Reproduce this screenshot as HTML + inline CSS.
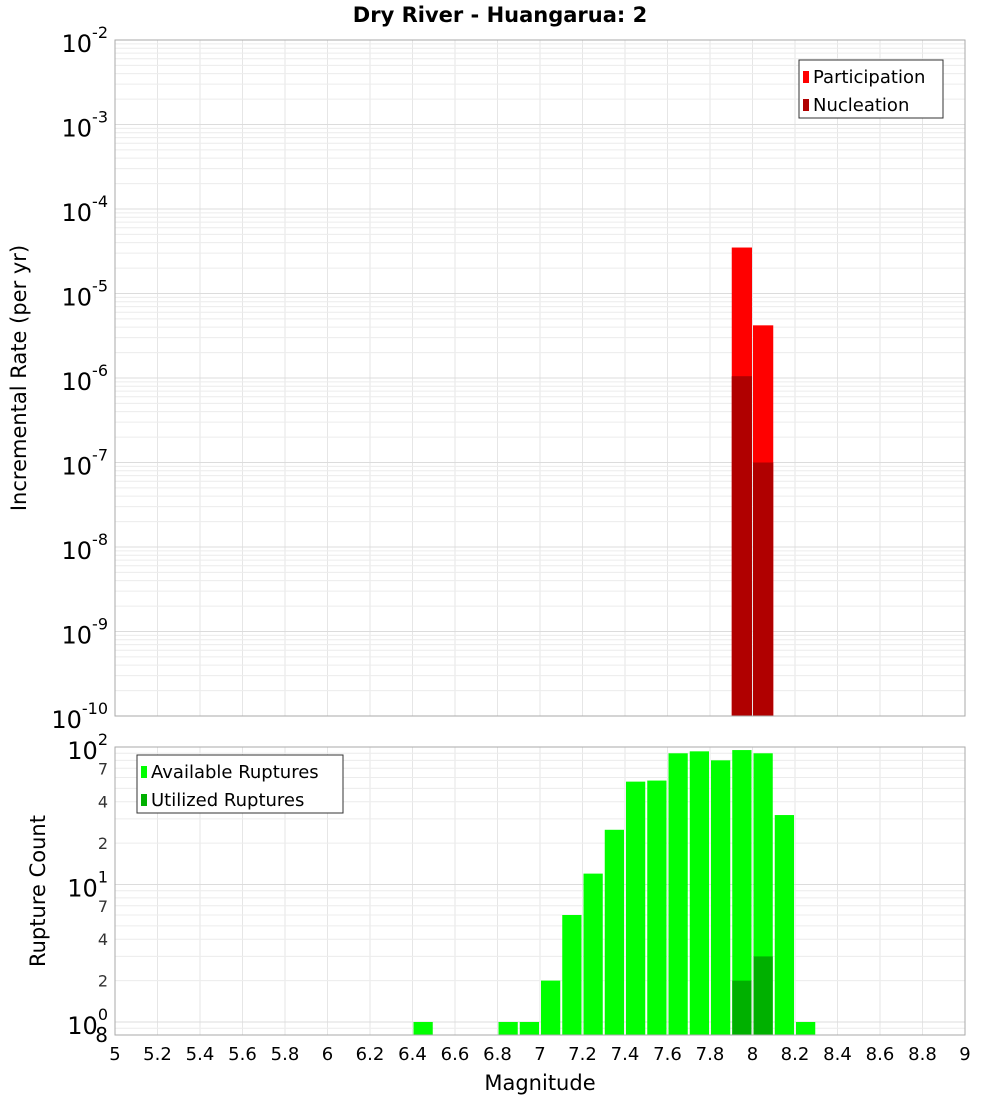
<!DOCTYPE html>
<html><head><meta charset="utf-8"><style>
body{margin:0;background:#fff;font-family:"DejaVu Sans","Liberation Sans",sans-serif}
</style></head><body>
<svg id="c" width="1000" height="1100" xmlns="http://www.w3.org/2000/svg" font-family="DejaVu Sans, Liberation Sans, sans-serif">
<text x="500" y="22" text-anchor="middle" font-size="21" font-weight="bold">Dry River - Huangarua: 2</text>
<g id="top"></g>
<g id="bot"></g>
<text transform="translate(26,378) rotate(-90)" text-anchor="middle" font-size="21">Incremental Rate (per yr)</text>
<text transform="translate(45,891) rotate(-90)" text-anchor="middle" font-size="21">Rupture Count</text>
<text x="540" y="1090" text-anchor="middle" font-size="21">Magnitude</text>
</svg>
<script>
const binStarts=[7.9,8.0];
const participation=[3.5e-5,4.2e-6];
const nucleation=[1.05e-6,1.0e-7];
const countBins=[6.4,6.8,6.9,7.0,7.1,7.2,7.3,7.4,7.5,7.6,7.7,7.8,7.9,8.0,8.1,8.2];
const available=[1,1,1,2,6,12,25,56,57,90,93,80,95,90,32,1];
const utilBins=[7.9,8.0];
const utilized=[2,3];
const xTicks=[5,5.2,5.4,5.6,5.8,6,6.2,6.4,6.6,6.8,7,7.2,7.4,7.6,7.8,8,8.2,8.4,8.6,8.8,9];
const NS="http://www.w3.org/2000/svg";
const L=115,R=965,T1=40,B1=716,T2=747,B2=1035;
const x=m=>L+(m-5)/4*(R-L);
const y1=v=>T1+(-2-Math.log10(v))*(B1-T1)/8;
const y2=v=>1022-Math.log10(v)*137.5;
function el(p,tag,a,txt){const e=document.createElementNS(NS,tag);for(const k in a)e.setAttribute(k,a[k]);if(txt!==undefined)e.textContent=txt;p.appendChild(e);return e;}
const gTop=document.getElementById('top'),gBot=document.getElementById('bot');
function vgrid(g,t,b){xTicks.forEach(m=>{const l=el(g,'line',{x1:x(m),x2:x(m),y1:t,y2:b,stroke:'#e6e6e6'});

});}
vgrid(gTop,T1,B1);vgrid(gBot,T2,B2);
for(let d=-10;d<-2;d++){for(let k=1;k<10;k++){const v=k*Math.pow(10,d);const yy=y1(v);
 const l=el(gTop,'line',{x1:L,x2:R,y1:yy,y2:yy,stroke:k==1?'#dcdcdc':'#ececec'});
 
 }}
for(let d=-1;d<2;d++){for(let k=1;k<10;k++){const v=k*Math.pow(10,d);const yy=y2(v);if(yy>B2||yy<T2)continue;
 const l=el(gBot,'line',{x1:L,x2:R,y1:yy,y2:yy,stroke:k==1?'#dcdcdc':'#ececec'});
 
 }}
binStarts.forEach((b,i)=>{
 const r=el(gTop,'rect',{x:x(b)+0.5,y:y1(participation[i]),width:x(b+0.1)-x(b)-1,height:B1-y1(participation[i]),fill:'#ff0000'});
 
 
 const n=el(gTop,'rect',{x:x(b)+0.5,y:y1(nucleation[i]),width:x(b+0.1)-x(b)-1,height:B1-y1(nucleation[i]),fill:'#b00000'});
 
 
});
countBins.forEach((b,i)=>{
 const r=el(gBot,'rect',{x:x(b)+1,y:y2(available[i]),width:x(b+0.1)-x(b)-2,height:B2-y2(available[i]),fill:'#00ff00'});
 
 
});
utilBins.forEach((b,i)=>{
 const r=el(gBot,'rect',{x:x(b)+1,y:y2(utilized[i]),width:x(b+0.1)-x(b)-2,height:B2-y2(utilized[i]),fill:'#00b000'});
 
 
});
[[gTop,T1,B1],[gBot,T2,B2]].forEach(([g,t,b])=>{const f=el(g,'rect',{x:L,y:t,width:R-L,height:b-t,fill:'none',stroke:'#aaa'});

});
for(let d=-2;d>=-10;d--){const yy=y1(Math.pow(10,d));
 const t=el(gTop,'text',{x:108,y:yy+12,'text-anchor':'end','font-size':24});
 
 
 el(t,'tspan',{},'10');el(t,'tspan',{dy:-14,'font-size':16},String(d));}
[[100,'2'],[10,'1'],[1,'0']].forEach(([v,e])=>{const yy=y2(v);
 const t=el(gBot,'text',{x:108,y:yy+12,'text-anchor':'end','font-size':24});
 
 
 el(t,'tspan',{},'10');el(t,'tspan',{dy:-14,'font-size':16},e);});
[2,4,7,20,40,70].forEach(v=>{const t=el(gBot,'text',{x:108,y:y2(v)+6,'text-anchor':'end','font-size':16,fill:'#333'},String(v<10?v:v/10));

});
{const t=el(gBot,'text',{x:108,y:1042,'text-anchor':'end','font-size':20},'8');

}
xTicks.forEach(m=>{const t=el(gBot,'text',{x:x(m),y:1060,'text-anchor':'middle','font-size':18},String(m));

});
function legend(g,lx,ly,w,items){const b=el(g,'rect',{x:lx,y:ly,width:w,height:58,fill:'#fff',stroke:'#333'});


 items.forEach(([c,s],i)=>{const r=el(g,'rect',{x:lx+4,y:ly+11+i*28,width:6,height:12,fill:c});
 
 
 const t=el(g,'text',{x:lx+14,y:ly+23+i*28,'font-size':18},s);
 
 });}
legend(gTop,799,60,144,[['#ff0000','Participation'],['#b00000','Nucleation']]);
legend(gBot,137,755,206,[['#00ff00','Available Ruptures'],['#00b000','Utilized Ruptures']]);
</script>
</body></html>
